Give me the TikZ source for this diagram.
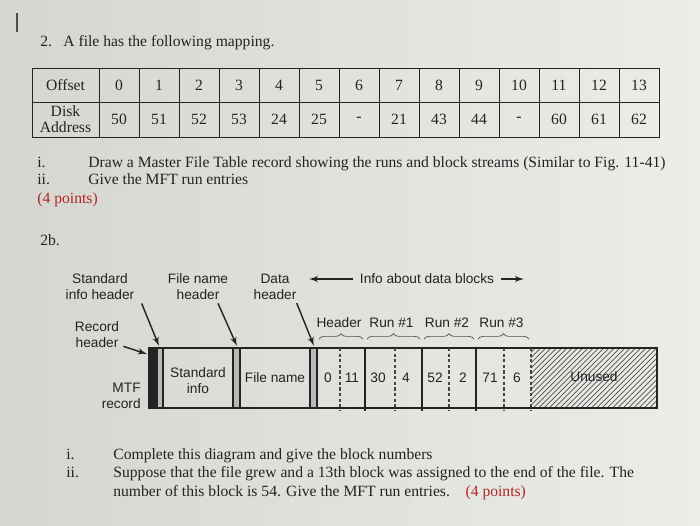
\documentclass[tikz,border=0pt]{standalone}
\usepackage{fontspec}
\setmainfont{Liberation Serif}
\setsansfont{Liberation Sans}
\usepackage{tikz}
\usetikzlibrary{calc,patterns,decorations.pathreplacing,arrows}
\definecolor{bgleft}{RGB}{212,214,207}
\definecolor{bgright}{RGB}{236,237,233}
\definecolor{ink}{RGB}{35,35,35}
\definecolor{ptsred}{RGB}{178,38,38}
\newcommand{\serifsz}{\fontsize{8.9pt}{10.5pt}\selectfont}
\newcommand{\sanssz}{\sffamily\fontsize{7.8pt}{9.1pt}\selectfont}
\tikzstyle{txt} = [anchor=base west, inner sep=0pt, font=\serifsz, text=ink]
\tikzstyle{cell} = [rectangle, draw=ink, line width=0.5pt, minimum width=0.8cm,
minimum height=0.68cm, inner sep=0pt, font=\serifsz, text=ink]
\tikzstyle{headcell} = [cell, minimum width=1.34cm, align=center,
font=\fontsize{8.9pt}{9.2pt}\selectfont]
\tikzstyle{lbl} = [align=center, inner sep=0pt, font=\sanssz, text=ink]
\tikzstyle{ptr} = [draw=ink, thick, -latex']
\tikzstyle{bar} = [draw=ink, thick, fill=gray!55]
\tikzstyle{brace} = [draw=ink!80, decorate, decoration={brace, amplitude=3pt}]

\begin{document}
\begin{tikzpicture}[x=0.02cm, y=-0.02cm]
	% Page
	\shade[left color=bgleft, right color=bgright] (0,0) rectangle (700,525);
	\useasboundingbox (0,0) rectangle (700,525);
	\draw[ink!80, line width=0.8pt] (17,13) -- (17,32);
	%
	\node [txt] (qnum) at (40,46) {2.};
	\node [txt] (qtitle) at (63,46) {A file has the following mapping.};
	
	% Mapping table
	\node [headcell] (offhdr) at (65.5,85) {Offset};
	\node [headcell, minimum height=0.7cm] (adrhdr) at (65.5,119.5) {Disk\\Address};
	\foreach \o/\a [count=\i from 0] in {0/50,1/51,2/52,3/53,4/24,5/25,6/-,7/21,8/43,9/44,10/-,11/60,12/61,13/62} {
		\node [cell] (off\i) at (119+40*\i,85) {\o};
		\node [cell, minimum height=0.7cm] (adr\i) at (119+40*\i,119.5) {\a};
	}
	
	\node [txt] (qi) at (37,167) {i.};
	\node [txt] (qitext) at (88,167) {Draw a Master File Table record showing the runs and block streams (Similar to Fig. 11-41)};
	\node [txt] (qii) at (37,184) {ii.};
	\node [txt] (qiitext) at (88,184) {Give the MFT run entries};
	\node [txt, text=ptsred] (qpts) at (37,203) {(4 points)};
	\node [txt] (qsub) at (40,245) {2b.};
	
	% MFT record
	\fill [pattern=north east lines, pattern color=ink!80] (531,348) rectangle (657,408);
	\draw [ink, thick] (149,348) rectangle (657,408);
	\fill [ink] (149,348) rectangle (157,408);
	\draw [bar] (157,348) rectangle (163,408);
	\draw [bar] (233,348) rectangle (240,408);
	\draw [bar] (310,348) rectangle (317,408);
	\foreach \x in {365,422,476}
		\draw [ink, thick] (\x,348) -- (\x,411);
	\foreach \x in {340,395,449,504,531}
		\draw [ink!85, line width=0.6pt, dash pattern=on 1.8pt off 1.4pt] (\x,348) -- (\x,411);
	
	\node [lbl] (stdinfo) at (198,381) {Standard\\info};
	\node [lbl] (fname) at (275,378) {File name};
	\node [lbl] (unused) at (594,377) {Unused};
	\foreach \v/\x in {0/328,11/352,30/378,4/406,52/435,2/463,71/490,6/517}
		\node [lbl] (num\x) at (\x,378) {\v};
	
	% Runs
	\foreach \a/\b/\t [count=\k] in {319/363/Header,367/420/Run \#1,424/474/Run \#2,478/529/Run \#3} {
		\draw [brace] (\a,339) -- (\b,339);
		\node [lbl] (run\k) at ({(\a+\b)/2-2},323) {\t};
	}
	
	% Labels
	\node [lbl] (sihdr) at (100,287) {Standard\\info header};
	\node [lbl] (fnhdr) at (198,287) {File name\\header};
	\node [lbl] (dathdr) at (275,287) {Data\\header};
	\node [lbl] (rechdr) at (97,335) {Record\\header};
	\node [lbl] (info) at (427,279) {Info about data blocks};
	\node [lbl, align=right, anchor=east] (mtf) at (141,396) {MTF\\record};
	%
	\coordinate (sihtip) at (159,346);
	\coordinate (fnhtip) at (237,346);
	\coordinate (dathtip) at (314,346);
	\coordinate (rectip) at (147,354);
	\coordinate (infol) at (309,279);
	\coordinate (infor) at (524,279);
	%
	\path [ptr] ($(sihdr.south east)+(7,3)$) -- (sihtip);
	\path [ptr] ($(fnhdr.south)+(20,3)$) -- (fnhtip);
	\path [ptr] ($(dathdr.south east)+(0,3)$) -- (dathtip);
	\path [ptr] ($(rechdr.south east)+(4,-2)$) -- (rectip);
	\path [ptr] ($(info.west)+(-7,0)$) -- (infol);
	\path [ptr] ($(info.east)+(7,0)$) -- (infor);
	
	\node [txt] (ci) at (66,459) {i.};
	\node [txt] (citext) at (113,459) {Complete this diagram and give the block numbers};
	\node [txt] (cii) at (66,477) {ii.};
	\node [txt] (ciitext) at (113,477) {Suppose that the file grew and a 13th block was assigned to the end of the file. The};
	\node [txt] (ciitexttwo) at (113,496) {number of this block is 54. Give the MFT run entries.\quad{\color{ptsred}(4 points)}};
\end{tikzpicture}
\end{document}
